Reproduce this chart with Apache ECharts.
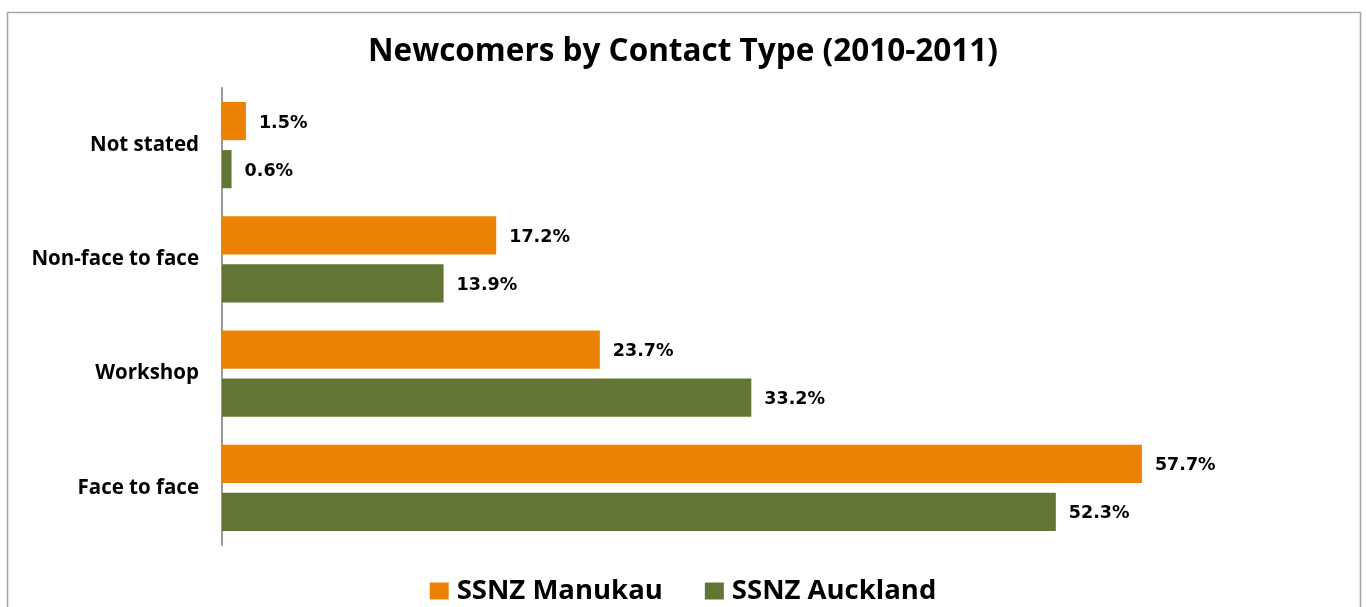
<!DOCTYPE html>
<html>
<head>
<meta charset="utf-8">
<script src="https://cdn.jsdelivr.net/npm/echarts@6/dist/echarts.min.js"></script>
<style>
    html, body { margin: 0; padding: 0; background: #fff; }
    #chart { width: 1366px; height: 607px; }
</style>
</head>
<body>
<div id="chart"></div>
<script>
    var categories = ['Not stated', 'Non-face to face', 'Workshop', 'Face to face'];
    var manukau = [1.5, 17.2, 23.7, 57.7];
    var auckland = [0.6, 13.9, 33.2, 52.3];
    var seriesNames = ['SSNZ Manukau', 'SSNZ Auckland'];

    var chart = echarts.init(document.getElementById('chart'));

    var labelStyle = {
        show: true,
        position: 'right',
        distance: 13,
        offset: [0, 2],
        fontFamily: 'DejaVu Sans',
        fontWeight: 'bold',
        fontSize: 17.5,
        color: '#000',
        formatter: function (p) { return p.value.toFixed(1) + '%'; }
    };

    chart.setOption({
        animation: false,
        color: ['#EC8204', '#637534'],
        title: {
            text: 'Newcomers by Contact Type (2010-2011)',
            left: 'center',
            top: 31,
            textStyle: { fontFamily: 'Open Sans', fontWeight: 'bold', fontSize: 31.5, color: '#000' }
        },
        graphic: [{
            type: 'rect',
            shape: { x: 7.5, y: 12.5, width: 1353, height: 640 },
            style: { fill: null, stroke: '#a6a6a6', lineWidth: 1.5 },
            silent: true
        }],
        legend: {
            data: seriesNames,
            left: 'center',
            top: 572,
            itemWidth: 19,
            itemHeight: 17,
            itemGap: 42,
            icon: 'rect',
            textStyle: {
                fontFamily: 'Open Sans', fontWeight: 'bold', fontSize: 27.5, color: '#000',
                padding: [0, 0, 0, 3]
            }
        },
        grid: { left: 222, top: 88, width: 1116, height: 457 },
        xAxis: {
            type: 'value',
            min: 0,
            max: 70,
            show: false
        },
        yAxis: {
            type: 'category',
            inverse: true,
            data: categories,
            axisLine: { lineStyle: { color: '#999', width: 2 } },
            axisTick: { show: false },
            axisLabel: {
                margin: 23,
                fontFamily: 'Open Sans',
                fontWeight: 'bold',
                fontSize: 20.5,
                color: '#000',
                padding: [6, 0, 0, 0]
            }
        },
        series: [
            {
                name: seriesNames[0],
                type: 'bar',
                data: manukau,
                barGap: '26%',
                barCategoryGap: '24.5%',
                label: labelStyle
            },
            {
                name: seriesNames[1],
                type: 'bar',
                data: auckland,
                barGap: '26%',
                barCategoryGap: '24.5%',
                label: labelStyle
            }
        ]
    });
</script>
</body>
</html>
